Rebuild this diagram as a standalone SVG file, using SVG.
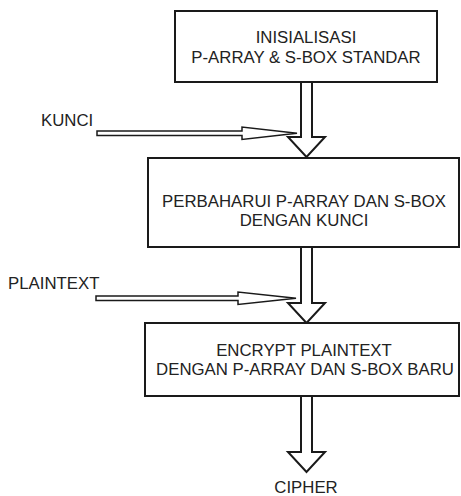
<svg xmlns="http://www.w3.org/2000/svg" width="461" height="496" viewBox="0 0 461 496">
<style>
.box{fill:#fff;stroke:#1a1a1a;stroke-width:2}
.fat{fill:#fff;stroke:#1a1a1a;stroke-width:2;stroke-linejoin:miter}
.thin{fill:#fff;stroke:#1a1a1a;stroke-width:1.5;stroke-linejoin:miter}
text{font-family:"Liberation Sans",Arial,sans-serif;font-size:16.8px;fill:#222}
.c{text-anchor:middle}
</style>
<rect width="461" height="496" fill="#fff"/>
<g id="connectors">
<path class="fat" d="M301,82 L301,137 L288,137 L306.5,157 L325,137 L312,137 L312,82"/>
<path class="fat" d="M301,247 L301,303 L288,303 L306.5,323 L325,303 L312,303 L312,247"/>
<path class="fat" d="M301,396 L301,452 L288,452 L306.5,472 L325,452 L312,452 L312,396 Z"/>
<path class="thin" d="M97,131 L242,131 L242,127 L297,133.3 L242,139.5 L242,135.5 L97,135.5 Z"/>
<path class="thin" d="M96,296 L238,296 L238,292 L296,298.3 L238,304.5 L238,300.5 L96,300.5 Z"/>
</g>
<g id="node-init">
<rect class="box" x="175" y="11" width="262" height="71"/>
<text class="c" x="306" y="43">INISIALISASI</text>
<text class="c" x="306" y="63">P-ARRAY &amp; S-BOX STANDAR</text>
</g>
<g id="node-update">
<rect class="box" x="148" y="158" width="311" height="89"/>
<text class="c" x="304" y="207">PERBAHARUI P-ARRAY DAN S-BOX</text>
<text class="c" x="304" y="226">DENGAN KUNCI</text>
</g>
<g id="node-encrypt">
<rect class="box" x="145" y="323" width="314" height="73"/>
<text class="c" x="304" y="356">ENCRYPT PLAINTEXT</text>
<text class="c" x="305" y="375">DENGAN P-ARRAY DAN S-BOX BARU</text>
</g>
<g id="label-kunci"><text x="41" y="126">KUNCI</text></g>
<g id="label-plaintext"><text x="8" y="289">PLAINTEXT</text></g>
<g id="label-cipher"><text class="c" x="306" y="493">CIPHER</text></g>
</svg>
